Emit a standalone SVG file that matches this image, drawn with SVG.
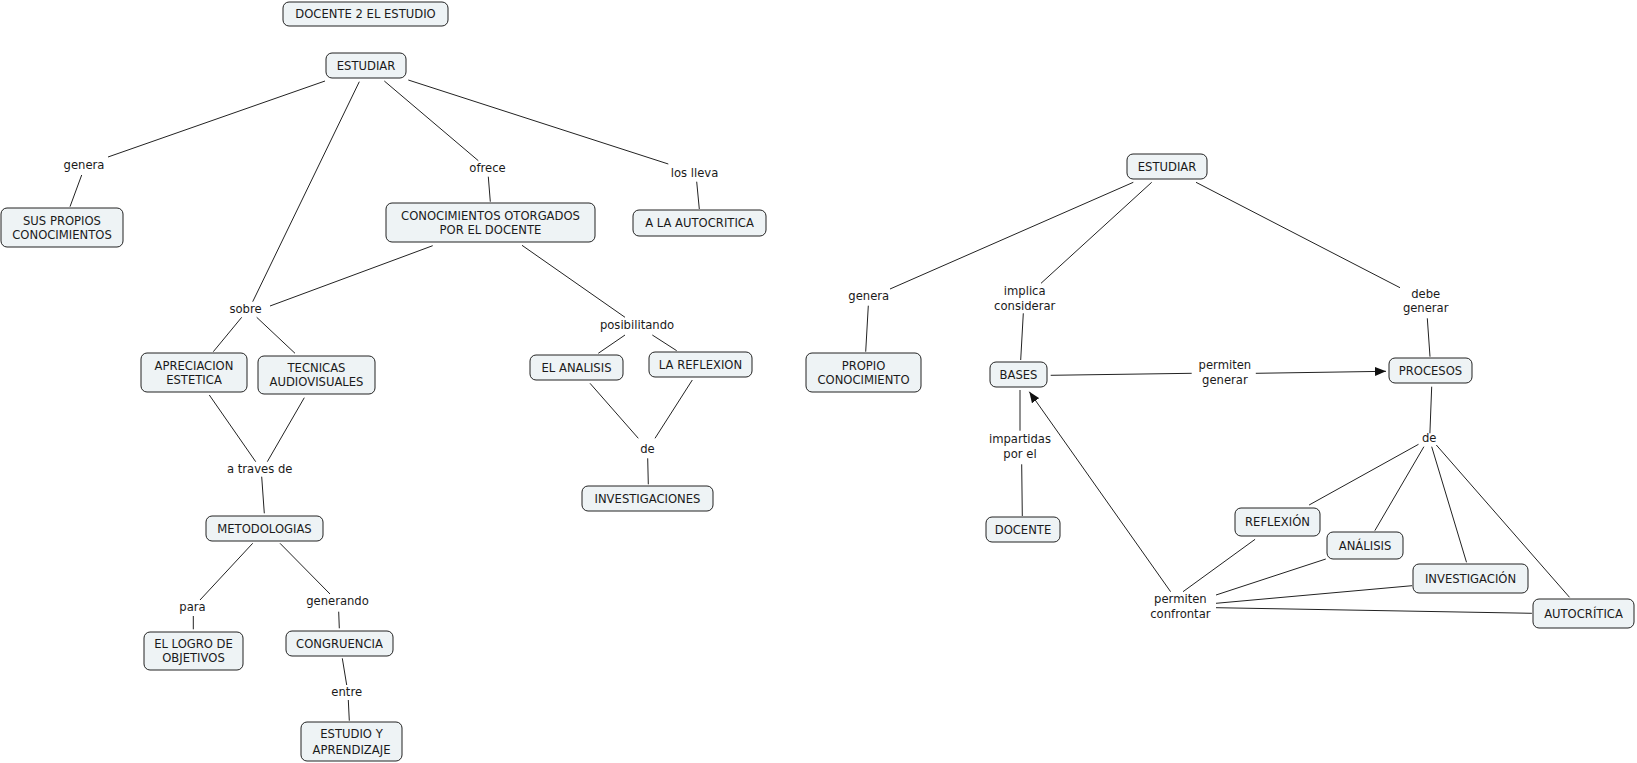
<svg xmlns="http://www.w3.org/2000/svg" width="1637" height="763" viewBox="0 0 1637 763">
<style>
.n rect{fill:#eef3f5;stroke:#222;stroke-width:1}
text{font-family:"DejaVu Sans",Verdana,sans-serif;font-size:11.6px;fill:#1a1a1a;text-anchor:middle}
#connectors line{stroke:#222;stroke-width:1;fill:none}
</style>
<defs>
<marker id="arr" markerUnits="userSpaceOnUse" markerWidth="11" markerHeight="9" refX="11" refY="4.5" orient="auto">
<path d="M0,0 L11,4.5 L0,9 z" fill="#111"/>
</marker>
</defs>
<rect width="1637" height="763" fill="#fff"/>
<g id="connectors">
<line x1="325" y1="81" x2="108" y2="157"/>
<line x1="81.7" y1="175" x2="70" y2="206.7"/>
<line x1="359.3" y1="81.7" x2="252.7" y2="301.7"/>
<line x1="384.3" y1="81" x2="478.3" y2="160.7"/>
<line x1="488.3" y1="176.7" x2="490.3" y2="201.7"/>
<line x1="408.3" y1="80" x2="668.3" y2="164"/>
<line x1="696.7" y1="181.7" x2="699.3" y2="209"/>
<line x1="432.7" y1="245.7" x2="270" y2="306"/>
<line x1="241.7" y1="317.3" x2="213.3" y2="351.7"/>
<line x1="256.7" y1="317.3" x2="295" y2="353.3"/>
<line x1="522" y1="245.3" x2="625" y2="317.3"/>
<line x1="625" y1="335" x2="598.3" y2="353.3"/>
<line x1="652.3" y1="335" x2="676.7" y2="350.7"/>
<line x1="590" y1="383.3" x2="638.3" y2="438.3"/>
<line x1="692.3" y1="380" x2="655" y2="438.3"/>
<line x1="647.7" y1="458.3" x2="648.3" y2="484.3"/>
<line x1="209.3" y1="395" x2="255.7" y2="461.7"/>
<line x1="304.3" y1="397.7" x2="267.3" y2="461.7"/>
<line x1="261.7" y1="476.7" x2="264.3" y2="513.3"/>
<line x1="252.7" y1="543.3" x2="200" y2="600"/>
<line x1="193.3" y1="616" x2="193.3" y2="629.3"/>
<line x1="280" y1="543.3" x2="330" y2="594"/>
<line x1="338.7" y1="611.7" x2="339.3" y2="628.3"/>
<line x1="342.3" y1="658.3" x2="346.7" y2="685"/>
<line x1="348.3" y1="700" x2="349.3" y2="720.7"/>
<line x1="1133.3" y1="182.3" x2="890" y2="289"/>
<line x1="868.3" y1="305.7" x2="865.7" y2="351.7"/>
<line x1="1151.7" y1="182.3" x2="1041" y2="283.3"/>
<line x1="1023.3" y1="313.3" x2="1020.7" y2="360"/>
<line x1="1196" y1="182.3" x2="1400" y2="287.7"/>
<line x1="1427.3" y1="318.3" x2="1430" y2="356.7"/>
<line x1="1050.7" y1="375.3" x2="1191.7" y2="373.3"/>
<line x1="1255.8" y1="373.3" x2="1386" y2="371.3" marker-end="url(#arr)"/>
<line x1="1020" y1="390" x2="1020" y2="430.7"/>
<line x1="1021.7" y1="464.3" x2="1022.3" y2="516"/>
<line x1="1431.7" y1="386.7" x2="1429.9" y2="433.3"/>
<line x1="1418.5" y1="444.3" x2="1309.1" y2="505"/>
<line x1="1423.9" y1="446.7" x2="1374.8" y2="530.7"/>
<line x1="1431.7" y1="446.7" x2="1466.5" y2="562.3"/>
<line x1="1436.3" y1="445" x2="1569.5" y2="597.3"/>
<line x1="1183" y1="591.7" x2="1255.1" y2="539.3"/>
<line x1="1216" y1="595" x2="1325.8" y2="559"/>
<line x1="1216" y1="603.3" x2="1412.1" y2="585.7"/>
<line x1="1216" y1="607.7" x2="1531.9" y2="613.3"/>
<line x1="1170.6" y1="591.7" x2="1029.3" y2="391.7" marker-end="url(#arr)"/>
</g>
<g id="labels">
<text x="84" y="169.2">genera</text>
<text x="487.5" y="171.9">ofrece</text>
<text x="694.5" y="176.9">los lleva</text>
<text x="245.5" y="313.2">sobre</text>
<text x="637" y="328.5">posibilitando</text>
<text x="647.5" y="453.2">de</text>
<text x="259.7" y="473.2">a traves de</text>
<text x="192.5" y="610.9">para</text>
<text x="337.5" y="604.9">generando</text>
<text x="346.7" y="696.2">entre</text>
<text x="868.8" y="299.9">genera</text>
<text x="1024.7" y="295.2">implica</text>
<text x="1024.7" y="309.9">considerar</text>
<text x="1425.7" y="297.5">debe</text>
<text x="1425.7" y="311.9">generar</text>
<text x="1224.9" y="368.5">permiten</text>
<text x="1224.9" y="383.5">generar</text>
<text x="1020" y="443.2">impartidas</text>
<text x="1020" y="457.5">por el</text>
<text x="1429.2" y="441.9">de</text>
<text x="1180.4" y="602.5">permiten</text>
<text x="1180.4" y="617.5">confrontar</text>
</g>
<g id="n1" class="n"><rect x="283" y="2" width="165" height="24" rx="6"/><text x="365.5" y="18.2">DOCENTE 2 EL ESTUDIO</text></g>
<g id="n2" class="n"><rect x="326" y="53" width="80" height="25" rx="6"/><text x="366" y="69.7">ESTUDIAR</text></g>
<g id="n3" class="n"><rect x="1" y="208" width="122" height="39" rx="6"/><text x="62" y="224.7">SUS PROPIOS</text><text x="62" y="239">CONOCIMIENTOS</text></g>
<g id="n4" class="n"><rect x="386" y="203" width="209" height="39" rx="6"/><text x="490.5" y="220">CONOCIMIENTOS OTORGADOS</text><text x="490.5" y="234.3">POR EL DOCENTE</text></g>
<g id="n5" class="n"><rect x="633" y="210" width="133" height="26" rx="6"/><text x="699.5" y="227.2">A LA AUTOCRITICA</text></g>
<g id="n6" class="n"><rect x="141" y="353" width="106" height="39" rx="6"/><text x="194" y="369.7">APRECIACION</text><text x="194" y="384">ESTETICA</text></g>
<g id="n7" class="n"><rect x="258" y="356" width="117" height="38" rx="6"/><text x="316.5" y="372">TECNICAS</text><text x="316.5" y="386.3">AUDIOVISUALES</text></g>
<g id="n8" class="n"><rect x="530" y="355" width="93" height="25" rx="6"/><text x="576.5" y="371.7">EL ANALISIS</text></g>
<g id="n9" class="n"><rect x="649" y="352" width="103" height="25" rx="6"/><text x="700.5" y="368.7">LA REFLEXION</text></g>
<g id="n10" class="n"><rect x="582" y="486" width="131" height="25" rx="6"/><text x="647.5" y="502.7">INVESTIGACIONES</text></g>
<g id="n11" class="n"><rect x="206" y="516" width="117" height="25" rx="6"/><text x="264.5" y="532.7">METODOLOGIAS</text></g>
<g id="n12" class="n"><rect x="144" y="632" width="99" height="38" rx="6"/><text x="193.5" y="648">EL LOGRO DE</text><text x="193.5" y="662.3">OBJETIVOS</text></g>
<g id="n13" class="n"><rect x="286" y="631" width="107" height="25" rx="6"/><text x="339.5" y="647.7">CONGRUENCIA</text></g>
<g id="n14" class="n"><rect x="301" y="722" width="101" height="39" rx="6"/><text x="351.5" y="738.2">ESTUDIO Y</text><text x="351.5" y="753.5">APRENDIZAJE</text></g>
<g id="n15" class="n"><rect x="1127" y="154" width="80" height="25" rx="6"/><text x="1167" y="170.7">ESTUDIAR</text></g>
<g id="n16" class="n"><rect x="806" y="353" width="115" height="39" rx="6"/><text x="863.5" y="369.9">PROPIO</text><text x="863.5" y="384.2">CONOCIMIENTO</text></g>
<g id="n17" class="n"><rect x="990" y="362" width="57" height="25" rx="6"/><text x="1018.5" y="378.7">BASES</text></g>
<g id="n18" class="n"><rect x="986" y="517" width="74" height="25" rx="6"/><text x="1023" y="533.7">DOCENTE</text></g>
<g id="n19" class="n"><rect x="1389" y="358" width="83" height="25" rx="6"/><text x="1430.5" y="374.7">PROCESOS</text></g>
<g id="n20" class="n"><rect x="1235" y="508" width="85" height="28" rx="6"/><text x="1277.5" y="526.2">REFLEXIÓN</text></g>
<g id="n21" class="n"><rect x="1327" y="532" width="76" height="27" rx="6"/><text x="1365" y="549.7">ANÁLISIS</text></g>
<g id="n22" class="n"><rect x="1413" y="564" width="115" height="29" rx="6"/><text x="1470.5" y="582.7">INVESTIGACIÓN</text></g>
<g id="n23" class="n"><rect x="1533" y="599" width="101" height="29" rx="6"/><text x="1583.5" y="617.7">AUTOCRÍTICA</text></g>
</svg>
